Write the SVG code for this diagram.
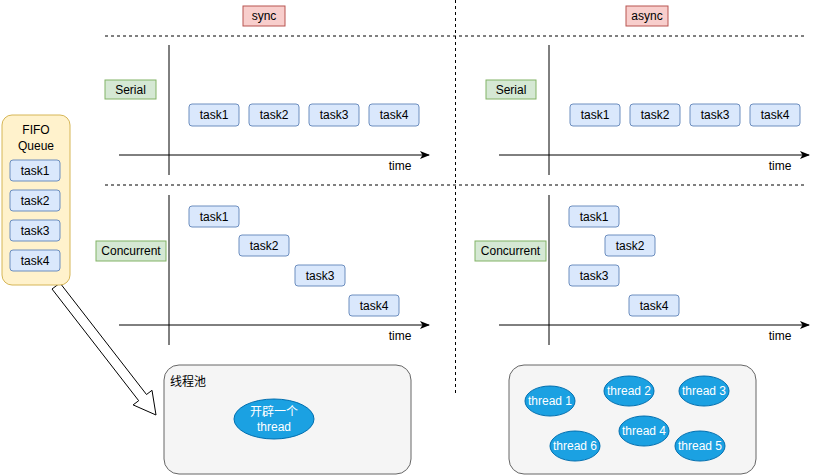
<svg xmlns="http://www.w3.org/2000/svg" width="818" height="476" viewBox="0 0 818 476">
<style>
text{font-family:"Liberation Sans",Arial,sans-serif;font-size:12px;fill:#000;text-anchor:middle;dominant-baseline:central}
.task{fill:#dae8fc;stroke:#6c8ebf;stroke-width:1}
.green{fill:#d5e8d4;stroke:#82b366;stroke-width:1}
.red{fill:#f8cecc;stroke:#b85450;stroke-width:1}
.dash{stroke:#000;stroke-width:1;stroke-dasharray:3 3;fill:none}
.axis{stroke:#000;stroke-width:1;fill:none}
.pool{fill:#f5f5f5;stroke:#666666;stroke-width:1}
.th{fill:#1ba1e2;stroke:#006eaf;stroke-width:1}
.wt{fill:#ffffff}
</style>
<defs>
<marker id="arr" viewBox="0 0 10 10" refX="9" refY="5" markerWidth="10" markerHeight="10" markerUnits="userSpaceOnUse" orient="auto">
<path d="M0,1 L10,5 L0,9 L2.5,5 Z" fill="#000"/>
</marker>
</defs>
<rect width="818" height="476" fill="#fff"/>
<g id="connectors">
<line class="dash" x1="105" y1="36" x2="805" y2="36"/>
<line class="dash" x1="105" y1="185" x2="805" y2="185"/>
<line class="dash" x1="455.5" y1="0" x2="455.5" y2="396"/>
<line class="axis" x1="169" y1="45" x2="169" y2="175"/>
<line class="axis" x1="119" y1="155" x2="429" y2="155" marker-end="url(#arr)"/>
<line class="axis" x1="549" y1="45" x2="549" y2="175"/>
<line class="axis" x1="499" y1="155" x2="809" y2="155" marker-end="url(#arr)"/>
<line class="axis" x1="169" y1="195" x2="169" y2="345"/>
<line class="axis" x1="119" y1="325" x2="429" y2="325" marker-end="url(#arr)"/>
<line class="axis" x1="549" y1="195" x2="549" y2="345"/>
<line class="axis" x1="499" y1="325" x2="809" y2="325" marker-end="url(#arr)"/>
<polygon points="60,283 146.5,394.5 152,390.3 156,415 133.1,404.9 138.7,400.7 52,289" fill="#fff" stroke="#000" stroke-width="1"/>
<text x="400" y="166">time</text>
<text x="780" y="166">time</text>
<text x="400" y="336">time</text>
<text x="780" y="336">time</text>
</g>
<g id="sync"><rect class="red" x="243" y="6" width="42" height="20"/><text x="264" y="16">sync</text></g>
<g id="async"><rect class="red" x="626" y="6" width="42" height="20"/><text x="647" y="16">async</text></g>
<g id="serial-sync"><rect class="green" x="105" y="80" width="51" height="19"/><text x="130.5" y="89.5">Serial</text></g>
<g id="serial-async"><rect class="green" x="486" y="80" width="50" height="19"/><text x="511" y="89.5">Serial</text></g>
<g id="concurrent-sync"><rect class="green" x="96" y="241" width="70" height="20"/><text x="131" y="251">Concurrent</text></g>
<g id="concurrent-async"><rect class="green" x="475" y="241" width="71" height="20"/><text x="510.5" y="251">Concurrent</text></g>
<g id="ss-task1"><rect class="task" x="189" y="104" width="50" height="22" rx="3"/><text x="214" y="115">task1</text></g>
<g id="ss-task2"><rect class="task" x="249" y="104" width="50" height="22" rx="3"/><text x="274" y="115">task2</text></g>
<g id="ss-task3"><rect class="task" x="309" y="104" width="50" height="22" rx="3"/><text x="334" y="115">task3</text></g>
<g id="ss-task4"><rect class="task" x="369" y="104" width="50" height="22" rx="3"/><text x="394" y="115">task4</text></g>
<g id="sa-task1"><rect class="task" x="570" y="104" width="50" height="22" rx="3"/><text x="595" y="115">task1</text></g>
<g id="sa-task2"><rect class="task" x="630" y="104" width="50" height="22" rx="3"/><text x="655" y="115">task2</text></g>
<g id="sa-task3"><rect class="task" x="690" y="104" width="50" height="22" rx="3"/><text x="715" y="115">task3</text></g>
<g id="sa-task4"><rect class="task" x="750" y="104" width="50" height="22" rx="3"/><text x="775" y="115">task4</text></g>
<g id="cs-task1"><rect class="task" x="189" y="206" width="50" height="21" rx="3"/><text x="214" y="216.5">task1</text></g>
<g id="cs-task2"><rect class="task" x="239" y="235" width="50" height="21" rx="3"/><text x="264" y="245.5">task2</text></g>
<g id="cs-task3"><rect class="task" x="295" y="265" width="50" height="21" rx="3"/><text x="320" y="275.5">task3</text></g>
<g id="cs-task4"><rect class="task" x="349" y="295" width="50" height="21" rx="3"/><text x="374" y="305.5">task4</text></g>
<g id="ca-task1"><rect class="task" x="569" y="206" width="50" height="21" rx="3"/><text x="594" y="216.5">task1</text></g>
<g id="ca-task2"><rect class="task" x="605" y="235" width="50" height="21" rx="3"/><text x="630" y="245.5">task2</text></g>
<g id="ca-task3"><rect class="task" x="569" y="265" width="50" height="21" rx="3"/><text x="594" y="275.5">task3</text></g>
<g id="ca-task4"><rect class="task" x="629" y="295" width="50" height="21" rx="3"/><text x="654" y="305.5">task4</text></g>
<g id="fifo">
<rect x="2" y="115" width="68" height="170" rx="10" fill="#fff2cc" stroke="#d6b656"/>
<text x="36" y="130">FIFO</text><text x="36" y="146">Queue</text>
<rect class="task" x="10" y="160" width="50" height="21" rx="3"/><text x="35" y="170.5">task1</text>
<rect class="task" x="10" y="190" width="50" height="21" rx="3"/><text x="35" y="200.5">task2</text>
<rect class="task" x="10" y="220" width="50" height="21" rx="3"/><text x="35" y="230.5">task3</text>
<rect class="task" x="10" y="250" width="50" height="21" rx="3"/><text x="35" y="260.5">task4</text>
</g>
<g id="pool-sync">
<rect class="pool" x="164" y="365" width="247" height="109" rx="15"/>
<text x="170" y="382" style="text-anchor:start;font-family:'Liberation Sans','Noto Sans CJK SC',sans-serif">线程池</text>
<ellipse class="th" cx="274" cy="419" rx="40" ry="20"/>
<text class="wt" x="274" y="412" style="font-family:'Liberation Sans','Noto Sans CJK SC',sans-serif">开辟一个</text>
<text class="wt" x="274" y="427">thread</text>
</g>
<g id="pool-async">
<rect class="pool" x="509" y="365" width="247" height="109" rx="15"/>
<g id="thread1"><ellipse class="th" cx="550" cy="401" rx="25" ry="15"/><text class="wt" x="550" y="401">thread 1</text></g>
<g id="thread2"><ellipse class="th" cx="629" cy="391" rx="25" ry="15"/><text class="wt" x="629" y="391">thread 2</text></g>
<g id="thread3"><ellipse class="th" cx="704" cy="391" rx="25" ry="15"/><text class="wt" x="704" y="391">thread 3</text></g>
<g id="thread4"><ellipse class="th" cx="644" cy="431" rx="25" ry="15"/><text class="wt" x="644" y="431">thread 4</text></g>
<g id="thread5"><ellipse class="th" cx="700" cy="446" rx="25" ry="15"/><text class="wt" x="700" y="446">thread 5</text></g>
<g id="thread6"><ellipse class="th" cx="575" cy="446" rx="25" ry="15"/><text class="wt" x="575" y="446">thread 6</text></g>
</g>
</svg>
